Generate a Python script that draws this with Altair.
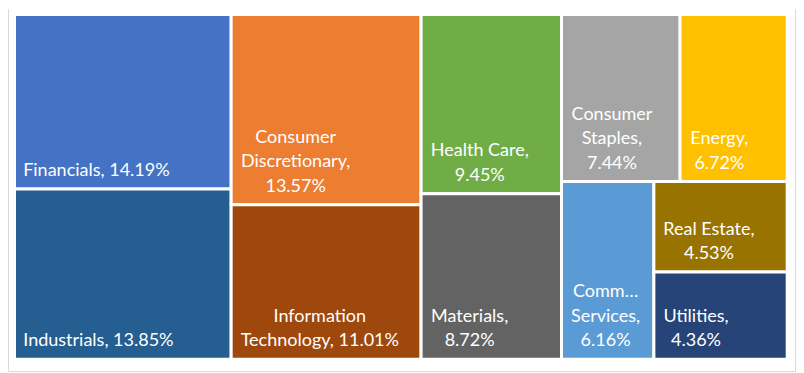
import altair as alt
import pandas as pd

# ---- data -------------------------------------------------------------
sectors = ["Financials", "Industrials", "Consumer Discretionary", "Information Technology",
           "Health Care", "Materials", "Consumer Staples", "Energy",
           "Communication Services", "Real Estate", "Utilities"]
weights = [14.19, 13.85, 13.57, 11.01, 9.45, 8.72, 7.44, 6.72, 6.16, 4.53, 4.36]
colors = ["#4472C4", "#255E91", "#ED7D31", "#9E480E", "#70AD47", "#636363",
          "#A5A5A5", "#FFC000", "#5B9BD5", "#997300", "#264478"]
# label text as wrapped in the picture ("|" = line break)
label_text = ["Financials, 14.19%", "Industrials, 13.85%", "Consumer|Discretionary,|13.57%",
              "Information|Technology, 11.01%", "Health Care,|9.45%", "Materials,|8.72%",
              "Consumer|Staples,|7.44%", "Energy,|6.72%", "Comm\u2026|Services,|6.16%",
              "Real Estate,|4.53%", "Utilities,|4.36%"]
# nesting of the treemap (indices into the lists above)
tree = [[0, 1], [2, 3], [4, 5], [[6, 7], [8, [9, 10]]]]

# ---- slice-and-dice layout computed from the weights ------------------
def wsum(node):
    return weights[node] if isinstance(node, int) else sum(wsum(n) for n in node)

rects = {}

def layout(node, x0, y0, x1, y1, depth):
    if isinstance(node, int):
        rects[node] = (x0, y0, x1, y1)
        return
    tot = wsum(node)
    pos = x0 if depth % 2 == 0 else y0
    for child in node:
        f = wsum(child) / tot
        if depth % 2 == 0:
            nxt = pos + f * (x1 - x0)
            layout(child, pos, y0, nxt, y1, depth + 1)
        else:
            nxt = pos + f * (y1 - y0)
            layout(child, x0, pos, x1, nxt, depth + 1)
        pos = nxt

layout(tree, 0, 0, 100, 100, 0)

X_RANGE = [6.5, 779.2]
Y_RANGE = [5.5, 350.2]
px_per_x = (X_RANGE[1] - X_RANGE[0]) / 100.0
px_per_y = (Y_RANGE[1] - Y_RANGE[0]) / 100.0
FS = 18
LH = 24.5

cw = {" ": .193, ",": .22, ".": .22, "%": .77, "\u2026": .68, "C": .67, "D": .75, "E": .57,
      "F": .55, "H": .76, "I": .28, "M": .91, "R": .62, "S": .52, "T": .58, "U": .72,
      "a": .49, "b": .54, "c": .45, "d": .54, "e": .51, "f": .33, "g": .48, "h": .55,
      "i": .24, "k": .5, "l": .24, "m": .83, "n": .55, "o": .55, "p": .54, "r": .37,
      "s": .41, "t": .35, "u": .55, "v": .5, "y": .5}

def tw(s):
    return sum(cw.get(ch, .58) for ch in s) * FS

rows = []
for i, name in enumerate(sectors):
    x0, y0, x1, y1 = rects[i]
    lines = label_text[i].split("|")
    bw = max(tw(l) for l in lines)
    rows.append(dict(sector=name, weight=weights[i], x0=x0, x1=x1, y0=y0, y1=y1,
                     lines=lines, tx=x0 + (10.5 + bw / 2) / px_per_x,
                     ty=y1 - (len(lines) - 1) * LH / px_per_y))
df = pd.DataFrame(rows)

xs = alt.Scale(domain=[0, 100], range=X_RANGE)
ys = alt.Scale(domain=[0, 100], range=Y_RANGE)

base = alt.Chart(df)
boxes = base.mark_rect(stroke="white", strokeWidth=3).encode(
    x=alt.X("x0:Q", scale=xs, axis=None), x2="x1:Q",
    y=alt.Y("y0:Q", scale=ys, axis=None), y2="y1:Q",
    color=alt.Color("sector:N", scale=alt.Scale(domain=sectors, range=colors), legend=None),
)
labels = base.mark_text(align="center", baseline="bottom", font="Lato", fontSize=FS,
                        color="white", lineHeight=LH, dy=-9).encode(
    x=alt.X("tx:Q", scale=xs, axis=None),
    y=alt.Y("ty:Q", scale=ys, axis=None),
    text="lines",
)
frame_l = alt.Chart(df).mark_rule(color="#d9d9d9").encode(
    x=alt.value(0.5), y=alt.value(0), y2=alt.value(362.5))
frame_r = alt.Chart(df).mark_rule(color="#d9d9d9").encode(
    x=alt.value(787.5), y=alt.value(0), y2=alt.value(362.5))
frame_b = alt.Chart(df).mark_rule(color="#d9d9d9").encode(
    x=alt.value(0.5), x2=alt.value(787.5), y=alt.value(362.5))

chart = alt.layer(frame_l, frame_r, frame_b, boxes, labels).properties(
    width=788, height=363, padding=0
).configure_view(stroke=None)

chart.save("out.html", embed_options={"renderer": "svg", "actions": False})
